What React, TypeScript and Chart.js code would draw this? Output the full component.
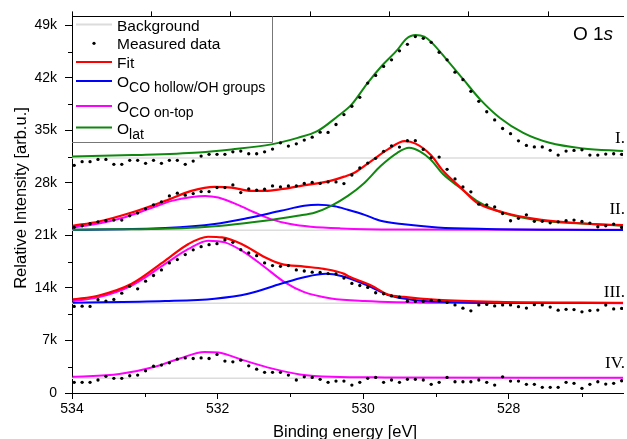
import React, { useEffect, useRef } from 'react';
import { Chart, registerables } from 'chart.js';

Chart.register(...registerables);

// ---------- axes ----------
const X_MIN = 526.43;
const X_MAX = 534;
const Y_MIN = 0;
const Y_MAX = 50.2;
const X_TICKS = [534, 532, 530, 528];
const X_MINOR = [533, 531, 529, 527];
const TOP_TICKS = [534, 532.91, 531.82, 530.73, 529.64, 528.55, 527.45];
const Y_TICKS = [0, 7, 14, 21, 28, 35, 42, 49];
const Y_MINOR = [3.5, 10.5, 17.5, 24.5, 31.5, 38.5, 45.5];

// measurement grid (binding energy, eV)
const ENERGY = Array.from({ length: 70 }, (_, i) => +(533.97 - 0.109 * i).toFixed(3));

// ---------- measured data (k counts) ----------
const DATA_I = [
  30.35, 30.83, 30.83, 31.14, 31.14, 30.48, 30.48, 31.01, 31.01, 30.61,
  31.01, 30.61, 31.01, 31.01, 30.48, 30.92, 31.58, 31.81, 31.81, 31.81,
  32.15, 32.25, 31.89, 31.89, 32.15, 32.51, 33.35, 32.91, 33.22, 33.71,
  34.10, 34.77, 34.73, 35.79, 37.12, 38.22, 39.41, 41.31, 42.33, 43.53,
  44.41, 45.61, 46.48, 47.51, 47.28, 46.75, 45.42, 44.41, 42.77, 41.76,
  40.21, 38.88, 37.49, 36.40, 35.26, 34.57, 33.61, 33.00, 32.80, 32.80,
  32.35, 31.72, 32.25, 32.34, 32.42, 31.72, 31.72, 31.85, 31.89, 31.81,
];
const DATA_II = [
  22.09, 22.29, 22.56, 22.82, 22.96, 23.05, 23.05, 23.62, 23.98, 24.55,
  25.08, 25.48, 26.27, 26.63, 26.37, 26.58, 26.85, 26.85, 27.38, 27.38,
  27.73, 26.71, 27.20, 27.03, 27.16, 27.60, 27.47, 27.60, 27.60, 27.93,
  28.07, 27.93, 28.13, 28.13, 27.91, 29.06, 29.99, 30.65, 31.28, 32.21,
  32.95, 32.78, 33.64, 33.64, 32.47, 31.38, 31.45, 29.82, 28.53, 27.47,
  26.81, 25.17, 25.08, 24.81, 23.93, 22.96, 23.29, 23.75, 22.89, 22.89,
  22.69, 22.82, 22.96, 23.05, 22.86, 22.65, 22.16, 22.29, 22.52, 22.07,
];
const DATA_III = [
  11.54, 11.58, 11.54, 12.43, 12.25, 12.47, 13.31, 14.24, 13.89, 14.90,
  15.66, 16.41, 17.34, 17.78, 18.45, 19.08, 19.51, 19.77, 19.91, 20.40,
  20.08, 19.11, 18.67, 18.31, 17.34, 16.99, 16.89, 16.99, 16.41, 16.26,
  16.10, 16.06, 15.92, 15.88, 15.33, 14.60, 14.33, 14.07, 13.36, 13.23,
  12.94, 12.78, 12.23, 12.21, 12.21, 12.34, 12.30, 12.08, 11.74, 11.31,
  10.95, 11.74, 11.81, 11.61, 11.74, 11.74, 11.51, 11.32, 11.77, 11.74,
  11.45, 11.04, 11.15, 11.12, 10.82, 10.99, 11.05, 11.72, 11.21, 11.28,
];
const DATA_IV = [
  1.42, 1.42, 1.42, 1.73, 2.22, 1.95, 1.95, 2.30, 2.39, 2.96,
  3.58, 3.72, 4.02, 4.51, 4.68, 4.60, 4.68, 4.60, 5.14, 4.25,
  4.15, 4.38, 3.62, 3.18, 2.75, 2.75, 2.75, 2.39, 1.73, 2.16,
  2.08, 1.82, 1.42, 1.59, 1.59, 1.06, 1.42, 1.95, 2.08, 1.42,
  1.73, 1.42, 1.82, 1.82, 1.73, 1.15, 1.42, 2.08, 1.50, 1.50,
  1.50, 1.73, 1.42, 1.06, 2.16, 1.59, 1.59, 1.15, 1.15, 0.76,
  0.76, 0.76, 1.42, 1.29, 0.62, 1.15, 1.50, 1.19, 1.29, 1.63,
];

// ---------- backgrounds ----------
const BG_E = [534, 526.43];
const BG_I = [31.32, 31.32];
const BG_II = [21.68, 21.68];
const BG_III = [11.98, 11.98];
const BG_IV = [1.95, 1.95];

// ---------- fitted curves ----------
const GREEN_I_E = [534.0, 533.17, 532.26, 531.81, 531.26, 530.9, 530.63, 530.35, 530.16, 529.94, 529.73, 529.53, 529.41, 529.28, 529.16, 529.07, 528.85, 528.62, 528.39, 528.12, 527.8, 527.44, 526.98, 526.43];
const GREEN_I_V = [31.52, 31.72, 32.07, 32.47, 33.14, 34.01, 34.9, 36.89, 38.44, 41.31, 43.75, 45.74, 47.2, 47.73, 47.51, 46.84, 44.41, 41.76, 39.11, 36.66, 34.67, 33.35, 32.6, 32.25];

const GREEN_II_E = [533.99, 532.26, 531.35, 530.9, 530.66, 530.44, 530.21, 529.98, 529.76, 529.53, 529.37, 529.21, 529.07, 528.9, 528.66, 528.44, 528.16, 527.71, 527.27, 526.8, 526.43];
const GREEN_II_V = [21.76, 22.07, 22.96, 23.62, 24.06, 24.95, 26.27, 28.04, 30.26, 32.02, 32.68, 32.14, 31.1, 29.15, 27.3, 25.61, 24.29, 23.18, 22.73, 22.52, 22.29];

const BLUE_II_E = [533.99, 532.72, 532.04, 531.58, 531.13, 530.81, 530.62, 530.39, 530.21, 529.98, 529.76, 529.44, 528.98, 528.3, 527.35, 526.43];
const BLUE_II_V = [21.76, 21.99, 22.52, 23.32, 24.28, 24.95, 25.08, 24.88, 24.42, 23.75, 22.96, 22.49, 22.07, 21.86, 21.76, 21.72];

const MAG_II_E = [533.99, 533.63, 533.31, 532.95, 532.63, 532.35, 532.17, 531.99, 531.72, 531.49, 531.27, 531.0, 530.72, 530.31, 529.53, 526.43];
const MAG_II_V = [22.07, 22.6, 23.32, 24.51, 25.61, 26.14, 26.27, 26.05, 25.08, 24.06, 23.18, 22.52, 22.16, 21.94, 21.8, 21.76];

const FIT_II_E = [533.99, 533.63, 533.18, 532.72, 532.36, 532.04, 531.81, 531.54, 531.35, 531.13, 530.9, 530.44, 530.26, 530.12, 529.89, 529.66, 529.43, 529.28, 529.07, 528.9, 528.66, 528.44, 528.07, 527.62, 527.16, 526.8, 526.43];
const FIT_II_V = [22.29, 22.86, 24.06, 25.61, 26.94, 27.47, 27.38, 26.94, 26.94, 27.16, 27.54, 28.31, 28.84, 29.37, 30.92, 32.47, 33.57, 33.24, 31.72, 29.59, 27.38, 25.39, 24.06, 23.18, 22.73, 22.49, 22.39];

const FIT_III_E = [533.99, 533.63, 533.18, 532.72, 532.4, 532.13, 531.94, 531.67, 531.35, 531.13, 530.81, 530.54, 530.26, 530.21, 529.89, 529.66, 529.44, 528.98, 528.16, 526.43];
const FIT_III_V = [12.47, 13.0, 14.56, 17.65, 19.87, 20.83, 20.74, 19.87, 18.09, 17.21, 16.85, 16.55, 15.88, 15.6, 14.33, 13.14, 12.81, 12.41, 12.14, 12.01];

const BLUE_III_E = [533.99, 532.72, 532.04, 531.58, 531.13, 530.81, 530.51, 530.3, 529.94, 529.66, 529.31, 528.85, 528.16, 526.43];
const BLUE_III_V = [12.04, 12.25, 12.57, 13.23, 14.56, 15.43, 15.88, 15.59, 14.33, 13.07, 12.41, 12.14, 12.01, 12.01];

const MAG_III_E = [533.99, 533.63, 533.18, 532.72, 532.4, 532.13, 531.9, 531.63, 531.35, 531.08, 530.81, 530.44, 529.98, 528.98, 526.43];
const MAG_III_V = [12.25, 12.78, 14.33, 17.21, 19.2, 20.3, 20.08, 18.75, 16.76, 14.77, 13.44, 12.61, 12.27, 12.04, 11.98];

const MAG_IV_E = [533.99, 533.35, 532.86, 532.52, 532.18, 531.99, 531.65, 531.26, 530.87, 530.43, 529.7, 526.43];
const MAG_IV_V = [2.16, 2.52, 3.49, 4.6, 5.48, 5.4, 4.38, 3.28, 2.48, 2.16, 2.08, 2.03];

// ---------- labels ----------
const SPECTRUM_LABELS = ['I.', 'II.', 'III.', 'IV.'];
const SPECTRUM_LABEL_Y = [33.3, 23.9, 12.85, 3.3];

const RED = '#ff0000';
const BLUE = '#0000ff';
const MAGENTA = '#ff00ff';
const GREEN = '#108810';
const BGCOL = '#dcdcdc';
const SANS = '"Liberation Sans", Arial, sans-serif';
const SERIF = '"Liberation Serif", "Times New Roman", serif';

const pts = (xs: number[], ys: number[]) => xs.map((x, i) => ({ x, y: ys[i] }));

const curve = (label: string, xs: number[], ys: number[], color: string, width = 2) => ({
  label,
  data: pts(xs, ys),
  borderColor: color,
  backgroundColor: color,
  borderWidth: width,
  pointRadius: 0,
  tension: 0.4,
  cubicInterpolationMode: 'monotone' as const,
  fill: false,
  xAxisID: 'x',
  yAxisID: 'y',
});

const dots = (label: string, ys: number[]) => ({
  label,
  data: pts(ENERGY, ys),
  showLine: false,
  pointRadius: 1.65,
  pointBorderWidth: 0,
  pointBackgroundColor: '#000',
  borderColor: '#000',
  backgroundColor: '#000',
  xAxisID: 'x',
  yAxisID: 'y',
});

const decor = {
  id: 'decor',
  afterDraw(chart: any) {
    const ctx: CanvasRenderingContext2D = chart.ctx;
    const xs = chart.scales.x;
    const ys = chart.scales.y;
    const area = chart.chartArea;
    ctx.save();
    // minor ticks
    ctx.strokeStyle = '#000';
    ctx.lineWidth = 1;
    ctx.beginPath();
    X_MINOR.forEach((v) => {
      const px = Math.round(xs.getPixelForValue(v)) + 0.5;
      ctx.moveTo(px, area.bottom);
      ctx.lineTo(px, area.bottom + 4);
    });
    Y_MINOR.forEach((v) => {
      const py = Math.round(ys.getPixelForValue(v)) + 0.5;
      ctx.moveTo(area.left, py);
      ctx.lineTo(area.left - 4, py);
    });
    ctx.stroke();

    // spectrum labels
    ctx.fillStyle = '#000';
    ctx.font = `17px ${SERIF}`;
    ctx.textAlign = 'right';
    ctx.textBaseline = 'alphabetic';
    SPECTRUM_LABELS.forEach((t, i) => {
      ctx.fillText(t, 625, ys.getPixelForValue(SPECTRUM_LABEL_Y[i]));
    });

    // O 1s
    ctx.textAlign = 'left';
    ctx.font = `19px ${SANS}`;
    const w1 = ctx.measureText('O 1').width;
    ctx.font = `italic 19px ${SANS}`;
    const w2 = ctx.measureText('s').width;
    const sx = 613 - w1 - w2;
    ctx.font = `19px ${SANS}`;
    ctx.fillText('O 1', sx, 40);
    ctx.font = `italic 19px ${SANS}`;
    ctx.fillText('s', sx + w1, 40);

    // axis titles
    ctx.font = `16.5px ${SANS}`;
    ctx.textAlign = 'center';
    ctx.fillText('Binding energy [eV]', 345, 437);
    ctx.save();
    ctx.translate(21, 198);
    ctx.rotate(-Math.PI / 2);
    ctx.textBaseline = 'middle';
    ctx.fillText('Relative Intensity [arb.u.]', 0, 0);
    ctx.restore();

    // legend box
    const L = area.left;
    const T = area.top;
    const R = 272;
    const B = 142.5;
    ctx.fillStyle = '#fff';
    ctx.fillRect(L + 1, T + 1, R - L - 1, B - T - 1);
    ctx.strokeStyle = '#777';
    ctx.lineWidth = 1;
    ctx.beginPath();
    ctx.moveTo(R + 0.5, T);
    ctx.lineTo(R + 0.5, B);
    ctx.lineTo(L, B);
    ctx.stroke();

    const items = [
      { kind: 'line', color: BGCOL, y: 24.5, main: 'Background', sub: '' },
      { kind: 'dot', color: '#000', y: 43.3, main: 'Measured data', sub: '' },
      { kind: 'line', color: RED, y: 62, main: 'Fit', sub: '' },
      { kind: 'line', color: BLUE, y: 81, main: 'O', sub: 'CO hollow/OH groups' },
      { kind: 'line', color: MAGENTA, y: 106, main: 'O', sub: 'CO on-top' },
      { kind: 'line', color: GREEN, y: 127.5, main: 'O', sub: 'lat' },
    ];
    items.forEach((it) => {
      if (it.kind === 'line') {
        ctx.strokeStyle = it.color;
        ctx.lineWidth = 2;
        ctx.beginPath();
        ctx.moveTo(76, it.y);
        ctx.lineTo(112, it.y);
        ctx.stroke();
      } else {
        ctx.fillStyle = '#000';
        ctx.beginPath();
        ctx.arc(94, it.y, 1.6, 0, Math.PI * 2);
        ctx.fill();
      }
      ctx.fillStyle = '#000';
      ctx.textAlign = 'left';
      ctx.textBaseline = 'alphabetic';
      ctx.font = `15.5px ${SANS}`;
      const base = it.y + 6;
      ctx.fillText(it.main, 117, base);
      if (it.sub) {
        const mw = ctx.measureText(it.main).width;
        ctx.font = `14px ${SANS}`;
        ctx.fillText(it.sub, 117 + mw, base + 5);
      }
    });
    ctx.restore();
  },
};

export default function App() {
  const ref = useRef<HTMLCanvasElement | null>(null);
  useEffect(() => {
    if (!ref.current) return;
    const tickFont = { family: SANS, size: 14 };
    const chart = new Chart(ref.current, {
      type: 'line',
      data: {
        datasets: [
          dots('Measured data I', DATA_I),
          dots('Measured data II', DATA_II),
          dots('Measured data III', DATA_III),
          dots('Measured data IV', DATA_IV),
          curve('Fit II', FIT_II_E, FIT_II_V, RED, 2.2),
          curve('Fit III', FIT_III_E, FIT_III_V, RED, 2.2),
          curve('O lat I', GREEN_I_E, GREEN_I_V, GREEN),
          curve('O lat II', GREEN_II_E, GREEN_II_V, GREEN),
          curve('O CO hollow II', BLUE_II_E, BLUE_II_V, BLUE),
          curve('O CO hollow III', BLUE_III_E, BLUE_III_V, BLUE),
          curve('O CO on-top II', MAG_II_E, MAG_II_V, MAGENTA),
          curve('O CO on-top III', MAG_III_E, MAG_III_V, MAGENTA),
          curve('O CO on-top IV', MAG_IV_E, MAG_IV_V, MAGENTA),
          curve('Background I', BG_E, BG_I, BGCOL, 1.5),
          curve('Background II', BG_E, BG_II, BGCOL, 1.5),
          curve('Background III', BG_E, BG_III, BGCOL, 1.5),
          curve('Background IV', BG_E, BG_IV, BGCOL, 1.5),
        ] as any,
      },
      options: {
        animation: false,
        responsive: false,
        devicePixelRatio: 1,
        layout: { padding: 0 },
        plugins: { legend: { display: false }, tooltip: { enabled: false } },
        scales: {
          x: {
            type: 'linear',
            position: 'bottom',
            reverse: true,
            min: X_MIN,
            max: X_MAX,
            afterBuildTicks: (s: any) => { s.ticks = X_TICKS.map((v) => ({ value: v })); },
            afterFit: (s: any) => { s.height = 46; },
            ticks: { color: '#000', font: tickFont, padding: 2, maxRotation: 0, autoSkip: false, callback: (v: any) => String(v) },
            grid: { drawOnChartArea: false, tickLength: 6, color: '#000', lineWidth: 1 },
            border: { display: true, color: '#000', width: 1 },
          },
          xTop: {
            type: 'linear',
            position: 'top',
            reverse: true,
            min: X_MIN,
            max: X_MAX,
            afterBuildTicks: (s: any) => { s.ticks = TOP_TICKS.map((v) => ({ value: v })); },
            afterFit: (s: any) => { s.height = 15; },
            ticks: { display: false },
            grid: { drawOnChartArea: false, tickLength: 5, color: '#000', lineWidth: 1 },
            border: { display: true, color: '#000', width: 1 },
          },
          y: {
            type: 'linear',
            position: 'left',
            min: Y_MIN,
            max: Y_MAX,
            afterBuildTicks: (s: any) => { s.ticks = Y_TICKS.map((v) => ({ value: v })); },
            afterFit: (s: any) => { s.width = 72; },
            ticks: { color: '#000', font: tickFont, padding: 8, autoSkip: false, callback: (v: any) => (v === 0 ? '0' : `${v}k`) },
            grid: { drawOnChartArea: false, tickLength: 7, color: '#000', lineWidth: 1 },
            border: { display: true, color: '#000', width: 1 },
          },
        },
      } as any,
      plugins: [decor],
    });
    return () => chart.destroy();
  }, []);
  return (
    <div style={{ position: 'absolute', left: 0, top: 0, width: 627, height: 439, background: '#fff' }}>
      <canvas ref={ref} width={627} height={439} style={{ display: 'block', width: 627, height: 439 }} />
    </div>
  );
}
